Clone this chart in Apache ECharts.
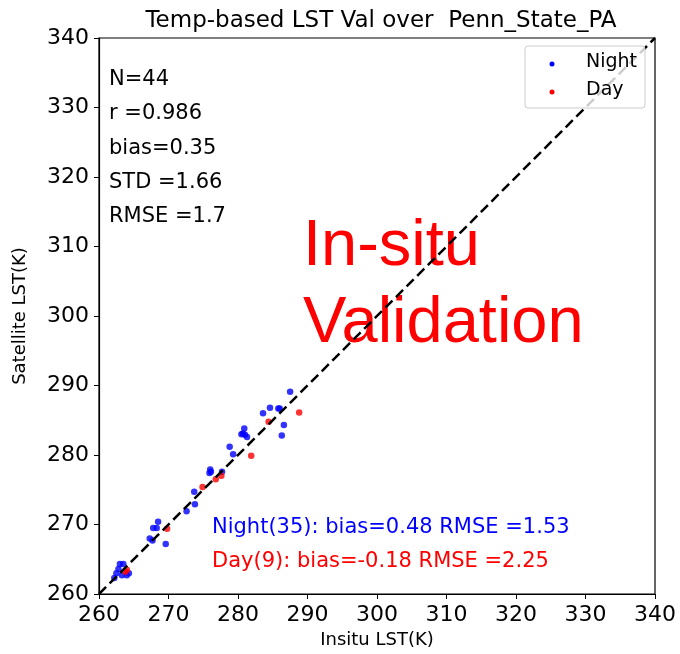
<!DOCTYPE html>
<html><head><meta charset="utf-8">
<script src="https://cdn.jsdelivr.net/npm/echarts@6/dist/echarts.min.js"></script>
<style>html,body{margin:0;padding:0;background:#fff}#c{width:680px;height:654px}</style>
</head><body><div id="c"></div>
<script>
var xTicks = [260,270,280,290,300,310,320,330,340];
var yTicks = [260,270,280,290,300,310,320,330,340];
var nightPoints = [
 [263.0,264.3],[263.5,264.3],[262.5,263.0],[263.3,262.7],[264.0,262.7],[262.2,262.3],[262.8,263.6],[264.3,263.0],
 [267.8,269.5],[268.5,270.4],[268.3,269.5],[267.3,268.0],[267.7,267.7],[269.6,267.2],
 [272.6,271.9],[273.7,274.7],[273.8,272.9],
 [276.0,277.9],[276.1,277.6],[275.9,277.4],[277.7,277.6],
 [278.8,281.2],[279.3,280.1],[280.9,283.8],[280.5,283.0],[281.0,282.9],[281.3,282.6],[280.7,283.1],
 [283.6,286.0],[284.6,286.8],[285.8,286.7],[286.0,286.7],[286.6,284.3],[286.3,282.8],[287.5,289.1]
];
var dayPoints = [
 [264.0,263.5],[263.8,263.2],[269.8,269.4],[274.9,275.4],[276.8,276.5],[277.6,277.0],[281.9,279.9],[284.4,284.8],[288.8,286.1]
];
var oneToOne = [[260,260],[340,340]];
var statsLines = ['N=44','r =0.986','bias=0.35','STD =1.66','RMSE =1.7'];
var nightStat = 'Night(35): bias=0.48 RMSE =1.53';
var dayStat = 'Day(9): bias=-0.18 RMSE =2.25';
var titleText = 'Temp-based LST Val over  Penn_State_PA';

var FONT = 'DejaVu Sans';
var chart = echarts.init(document.getElementById('c'));
var axisCommon = {
  min: 260, max: 340, interval: 10,
  axisLine: {show: true, onZero: false, lineStyle: {color: '#000', width: 1.2}},
  axisTick: {show: true, inside: false, length: 5, lineStyle: {color: '#000', width: 1}},
  axisLabel: {color: '#000', fontSize: 22, fontFamily: FONT, margin: 10},
  splitLine: {show: false},
  nameTextStyle: {color: '#000', fontSize: 18, fontFamily: FONT}
};
var graphics = [];
statsLines.forEach(function(t, i){
  graphics.push({type:'text', left:109, top:69 + i*34.3, style:{text:t, fontSize:21, fontFamily:FONT, fill:'#000'}});
});
graphics.push({type:'text', left:303, top:215, style:{text:'In-situ', fontSize:65, fontFamily:'Liberation Sans', fill:'#ff0000'}});
graphics.push({type:'text', left:303, top:292, style:{text:'Validation', fontSize:65, fontFamily:'Liberation Sans', fill:'#ff0000'}});
graphics.push({type:'text', left:212, top:517, style:{text:nightStat, fontSize:21, fontFamily:FONT, fill:'#0000ff'}});
graphics.push({type:'text', left:212, top:551, style:{text:dayStat, fontSize:21, fontFamily:FONT, fill:'#ff0000'}});
graphics.push({type:'rect', shape:{x:525, y:46, width:120, height:62, r:3}, style:{fill:'rgba(255,255,255,0.8)', stroke:'#cccccc', lineWidth:1}, z:10});
graphics.push({type:'circle', shape:{cx:552, cy:64, r:2.5}, style:{fill:'#0000ff'}, z:11});
graphics.push({type:'circle', shape:{cx:552, cy:92, r:2.5}, style:{fill:'#ff0000'}, z:11});
graphics.push({type:'text', left:586, top:53, style:{text:'Night', fontSize:19, fontFamily:FONT, fill:'#000'}, z:11});
graphics.push({type:'text', left:586, top:81, style:{text:'Day', fontSize:19, fontFamily:FONT, fill:'#000'}, z:11});

chart.setOption({
  animation: false,
  backgroundColor: '#fff',
  title: {text: titleText, left: 376, textAlign: 'center', top: 5, textStyle: {fontSize: 23, fontWeight: 'normal', fontFamily: FONT, color: '#000'}},
  grid: {left: 99, right: 25, top: 38, bottom: 60, show: true, borderColor: '#000', borderWidth: 1.2, backgroundColor: 'transparent'},
  xAxis: Object.assign({type: 'value', name: 'Insitu LST(K)', nameLocation: 'middle', nameGap: 37}, axisCommon),
  yAxis: Object.assign({type: 'value', name: 'Satellite LST(K)', nameLocation: 'middle', nameGap: 70}, axisCommon),
  series: [
    {type: 'line', data: oneToOne, symbol: 'none', lineStyle: {color: '#000', width: 2.5, type: [10, 5]}, z: 3},
    {type: 'scatter', name: 'Night', data: nightPoints, symbolSize: 6.5, itemStyle: {color: '#0000ff'}, z: 2},
    {type: 'scatter', name: 'Day', data: dayPoints, symbolSize: 6.5, itemStyle: {color: '#ff0000'}, z: 2}
  ],
  graphic: graphics
});
</script></body></html>
